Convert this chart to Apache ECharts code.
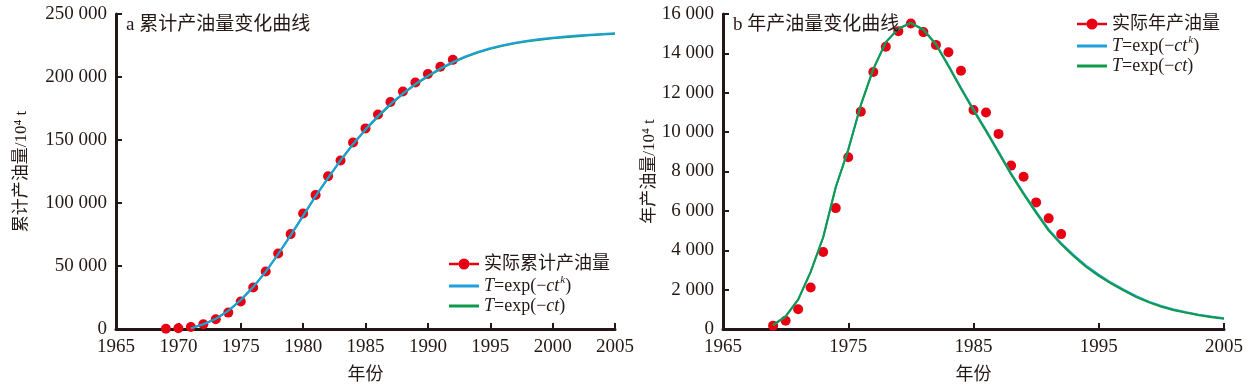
<!DOCTYPE html>
<html>
<head>
<meta charset="utf-8">
<script src="https://cdn.jsdelivr.net/npm/echarts@6/dist/echarts.min.js"></script>
<style>
html,body{margin:0;padding:0;background:#fff;}
#c{width:1250px;height:389px;}
</style>
</head>
<body>
<div id="c"></div>
<script>
// ---- data ----
const obsYears = [1969,1970,1971,1972,1973,1974,1975,1976,1977,1978,1979,1980,1981,1982,1983,1984,1985,1986,1987,1988,1989,1990,1991,1992];
const cumActual = [200,600,1600,3800,7700,13000,21800,32900,45700,59900,75300,91600,106300,121200,133800,148000,159200,170200,180200,188500,195600,202400,208200,213600];
const annualActual = [170,420,1000,2110,3910,6140,8720,11040,13050,14340,15130,15520,15080,14430,14060,13120,11120,11000,9910,8300,7730,6430,5620,4820];

const cumFitYears = [1971,1972,1973,1974,1975,1976,1977,1978,1979,1980,1981,1982,1983,1984,1985,1986,1987,1988,1989,1990,1991,1992,1993,1994,1995,1996,1997,1998,1999,2000,2001,2002,2003,2004,2005];
const cumFitK = [500,3800,8000,14500,23000,33500,45500,59500,74500,90000,105500,120000,134000,147000,158500,169000,178500,187000,194500,201000,206800,211900,216300,219900,222800,225200,227200,228800,230100,231200,232100,232900,233600,234200,234700];
const cumFitC = [500,3800,8000,14400,22800,33300,45300,59300,74300,89800,105300,119700,133700,146600,158100,168500,178000,186500,194000,200500,206300,211400,215800,219400,222300,224700,226700,228300,229600,230700,231600,232400,233100,233700,234300];

const annFitYears = [1969,1970,1971,1972,1973,1974,1975,1976,1977,1978,1979,1980,1981,1982,1983,1984,1985,1986,1987,1988,1989,1990,1991,1992,1993,1994,1995,1996,1997,1998,1999,2000,2001,2002,2003,2004,2005];
const annFitC = [200,640,1490,2900,4660,7200,9100,11370,13200,14570,15250,15550,15200,14450,13350,12200,11100,10050,8950,7850,6850,5900,5000,4300,3700,3150,2700,2300,1950,1620,1350,1130,950,820,700,600,520];
const annFitK = [200,640,1490,2900,4660,7200,9100,11370,13200,14570,15250,15550,15200,14480,13400,12260,11160,10110,9010,7910,6910,5960,5060,4360,3760,3210,2760,2350,2000,1670,1390,1170,990,850,730,630,550];

const leftYTicks = ['0','50 000','100 000','150 000','200 000','250 000'];
const rightYTicks = ['0','2 000','4 000','6 000','8 000','10 000','12 000','14 000','16 000'];

const titleA = 'a 累计产油量变化曲线';
const titleB = 'b 年产油量变化曲线';
const nameCumAct = '实际累计产油量';
const nameAnnAct = '实际年产油量';
const nameK = 'T=exp(−ct^k)';
const nameC = 'T=exp(−ct)';

// ---- chart ----
const FONT = "'Liberation Serif','Noto Sans CJK SC',serif";
const INK = '#231815';
const RED = '#e60012';
const BLUE = '#1ea0dc';
const GREEN = '#109a4a';

function pairs(xs, ys){ return xs.map((x,i)=>[x, ys[i]]); }

const rich = {
  n: {fontFamily: FONT, fontSize: 18, color: INK, lineHeight: 22},
  i: {fontFamily: FONT, fontSize: 18, fontStyle: 'italic', color: INK, lineHeight: 22},
  s: {fontFamily: FONT, fontSize: 11, fontStyle: 'italic', color: INK, lineHeight: 22, verticalAlign: 'top', padding: [0,0,0,1]}
};
function legendFmt(name){
  if (name === nameK) return '{i|T}{n|=exp(−}{i|ct}{s|k}{n|)}';
  if (name === nameC) return '{i|T}{n|=exp(−}{i|ct}{n|)}';
  return '{n|' + name + '}';
}
const ICON_DOT = 'path://M0,4.25L9.7,4.25L9.7,6.75L0,6.75Z M20.3,4.25L30,4.25L30,6.75L20.3,6.75Z M9.5,5.5a5.5,5.5 0 1,0 11,0a5.5,5.5 0 1,0 -11,0Z';
const ICON_LINE = 'path://M0,0L30,0L30,0.01L0,0.01Z M0,4L30,4L30,7L0,7Z M0,10.99L30,10.99L30,11L0,11Z';

function xAxis(gi, interval){
  return {
    gridIndex: gi, type: 'value', min: 1965, max: 2005, interval: interval,
    name: '年份', nameLocation: 'middle', nameGap: 37,
    nameTextStyle: {fontFamily: FONT, fontSize: 18, color: INK},
    axisLine: {lineStyle: {color: INK, width: 3}},
    axisTick: {inside: true, length: 6, lineStyle: {color: INK, width: 2}},
    axisLabel: {fontFamily: FONT, fontSize: 19, color: INK, margin: 9,
      formatter: function(v){ return String(v); }},
    splitLine: {show: false}
  };
}
function yAxis(gi, max, interval, ticks, name, gap){
  return {
    gridIndex: gi, type: 'value', min: 0, max: max, interval: interval,
    name: name, nameLocation: 'middle', nameGap: gap,
    nameTextStyle: {fontFamily: FONT, fontSize: 17, color: INK},
    axisLine: {show: true, lineStyle: {color: INK, width: 3}},
    axisTick: {show: true, inside: true, length: 6, lineStyle: {color: INK, width: 2}},
    axisLabel: {fontFamily: FONT, fontSize: 19, color: INK, margin: 9,
      formatter: function(v){ return ticks[Math.round(v/interval)]; }},
    splitLine: {show: false}
  };
}

function legendData(actName){
  return [
    {name: actName, icon: ICON_DOT, itemStyle: {color: RED}},
    {name: nameK, icon: ICON_LINE, itemStyle: {color: BLUE}},
    {name: nameC, icon: ICON_LINE, itemStyle: {color: GREEN}}
  ];
}

const chart = echarts.init(document.getElementById('c'));
chart.setOption({
  animation: false,
  backgroundColor: '#fff',
  title: [
    {text: titleA, left: 121, top: 11, textStyle: {fontFamily: FONT, fontSize: 19, fontWeight: 'normal', color: INK}},
    {text: titleB, left: 728, top: 11, textStyle: {fontFamily: FONT, fontSize: 19, fontWeight: 'normal', color: INK}}
  ],
  grid: [
    {left: 116, top: 14, width: 499, height: 318.5},
    {left: 723, top: 14, width: 501, height: 318.5}
  ],
  xAxis: [xAxis(0, 5), xAxis(1, 10)],
  yAxis: [
    yAxis(0, 250000, 50000, leftYTicks, '累计产油量/10⁴ t', 86),
    yAxis(1, 16000, 2000, rightYTicks, '年产油量/10⁴ t', 63)
  ],
  legend: [
    {
      orient: 'vertical', left: 444, top: 250, itemWidth: 30, itemHeight: 11, itemGap: 2,
      symbolKeepAspect: false,
      formatter: legendFmt, textStyle: {rich: rich},
      data: legendData(nameCumAct)
    },
    {
      orient: 'vertical', left: 1072, top: 10, itemWidth: 30, itemHeight: 11, itemGap: 2,
      symbolKeepAspect: false,
      formatter: legendFmt, textStyle: {rich: rich},
      data: legendData(nameAnnAct)
    }
  ],
  series: [
    {name: nameCumAct, type: 'line', xAxisIndex: 0, yAxisIndex: 0, data: pairs(obsYears, cumActual),
     symbol: 'circle', symbolSize: 10, itemStyle: {color: RED}, lineStyle: {opacity: 0, color: RED}, z: 2},
    {name: nameC, type: 'line', xAxisIndex: 0, yAxisIndex: 0, data: pairs(cumFitYears, cumFitC),
     symbol: 'none', lineStyle: {color: GREEN, width: 2}, itemStyle: {color: GREEN}, z: 3},
    {name: nameK, type: 'line', xAxisIndex: 0, yAxisIndex: 0, data: pairs(cumFitYears, cumFitK),
     symbol: 'none', lineStyle: {color: BLUE, width: 2}, itemStyle: {color: BLUE}, z: 4},

    {name: nameAnnAct, type: 'line', xAxisIndex: 1, yAxisIndex: 1, data: pairs(obsYears, annualActual),
     symbol: 'circle', symbolSize: 10, itemStyle: {color: RED}, lineStyle: {opacity: 0, color: RED}, z: 2},
    {name: nameK, type: 'line', xAxisIndex: 1, yAxisIndex: 1, data: pairs(annFitYears, annFitK),
     symbol: 'none', lineStyle: {color: BLUE, width: 2}, itemStyle: {color: BLUE}, z: 3},
    {name: nameC, type: 'line', xAxisIndex: 1, yAxisIndex: 1, data: pairs(annFitYears, annFitC),
     symbol: 'none', lineStyle: {color: GREEN, width: 2}, itemStyle: {color: GREEN}, z: 4}
  ]
});
</script>
</body>
</html>
